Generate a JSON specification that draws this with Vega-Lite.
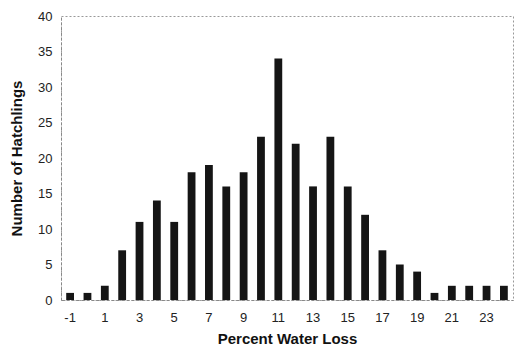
{
  "$schema": "https://vega.github.io/schema/vega-lite/v6.json",
  "autosize": {"type": "none"},
  "width": 452,
  "height": 284,
  "padding": {"left": 61, "top": 16, "right": 6, "bottom": 49},
  "background": "white",
  "config": {
    "view": {"stroke": "#999", "strokeDash": [2, 2], "strokeWidth": 1},
    "font": "Liberation Sans"
  },
  "data": {
    "values": [
      {"loss": -1, "count": 1}, {"loss": 0, "count": 1}, {"loss": 1, "count": 2},
      {"loss": 2, "count": 7}, {"loss": 3, "count": 11}, {"loss": 4, "count": 14},
      {"loss": 5, "count": 11}, {"loss": 6, "count": 18}, {"loss": 7, "count": 19},
      {"loss": 8, "count": 16}, {"loss": 9, "count": 18}, {"loss": 10, "count": 23},
      {"loss": 11, "count": 34}, {"loss": 12, "count": 22}, {"loss": 13, "count": 16},
      {"loss": 14, "count": 23}, {"loss": 15, "count": 16}, {"loss": 16, "count": 12},
      {"loss": 17, "count": 7}, {"loss": 18, "count": 5}, {"loss": 19, "count": 4},
      {"loss": 20, "count": 1}, {"loss": 21, "count": 2}, {"loss": 22, "count": 2},
      {"loss": 23, "count": 2}, {"loss": 24, "count": 2}
    ]
  },
  "mark": {"type": "bar", "color": "#151515"},
  "encoding": {
    "x": {
      "field": "loss",
      "type": "ordinal",
      "sort": "ascending",
      "scale": {"paddingInner": 0.55, "paddingOuter": 0.3},
      "axis": {
        "title": "Percent Water Loss",
        "titleFontSize": 15,
        "titleFontWeight": "bold",
        "titleColor": "#111",
        "titlePadding": 7,
        "labelAngle": 0,
        "labelFontSize": 13,
        "labelColor": "#222",
        "labelPadding": 11,
        "labelExpr": "abs(datum.value % 2) == 1 ? datum.label : ''",
        "ticks": false,
        "domainColor": "#888",
        "domainDash": [3, 2]
      }
    },
    "y": {
      "field": "count",
      "type": "quantitative",
      "scale": {"domain": [0, 40]},
      "axis": {
        "title": "Number of Hatchlings",
        "titleFontSize": 15,
        "titleFontWeight": "bold",
        "titleColor": "#111",
        "titlePadding": 13,
        "values": [0, 5, 10, 15, 20, 25, 30, 35, 40],
        "labelFontSize": 13,
        "labelColor": "#222",
        "labelPadding": 9,
        "ticks": false,
        "grid": false,
        "domainColor": "#888",
        "domainDash": [3, 2]
      }
    }
  }
}
